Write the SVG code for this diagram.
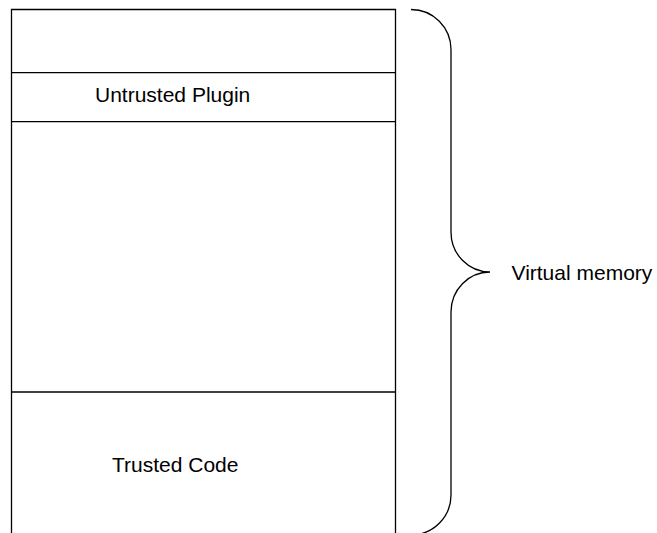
<svg xmlns="http://www.w3.org/2000/svg" width="657" height="533" viewBox="0 0 657 533">
  <style>
    .box { fill: none; stroke: #000; stroke-width: 1.3; }
    .label { font-family: "Liberation Sans", Arial, sans-serif; font-size: 21px; fill: #000; }
  </style>
  <rect width="657" height="533" fill="#fff"/>

  <!-- memory column, open at the bottom -->
  <g id="column">
    <path class="box" d="M11.5,540 V9.5 H395.5 V540"/>
  </g>

  <g id="free-top">
    <line class="box" x1="11.5" y1="72.7" x2="395.5" y2="72.7"/>
  </g>

  <g id="untrusted-plugin">
    <line class="box" x1="11.5" y1="121.7" x2="395.5" y2="121.7"/>
    <text class="label" x="95" y="102.3">Untrusted Plugin</text>
  </g>

  <g id="trusted-code">
    <line class="box" x1="11.5" y1="392" x2="395.5" y2="392"/>
    <text class="label" x="112" y="472.3">Trusted Code</text>
  </g>

  <!-- curly brace spanning the whole address space -->
  <g id="connectors">
    <path class="box" d="M411,9.5 A40,40 0 0 1 451,49.5 L451,232 A39,40 0 0 0 490,272 A39,40 0 0 0 451,312 L451,495 A40,40 0 0 1 411,535"/>
  </g>

  <g id="virtual-memory">
    <text class="label" x="511.5" y="279.5">Virtual memory</text>
  </g>
</svg>
